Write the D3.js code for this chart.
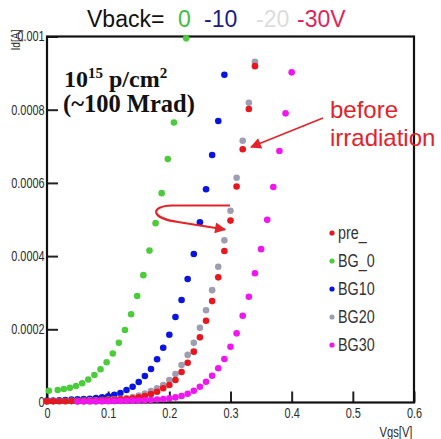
<!DOCTYPE html>
<html><head><meta charset="utf-8">
<script src="https://cdn.jsdelivr.net/npm/d3@7/dist/d3.min.js"></script>
<style>body{margin:0;background:#fff}svg{display:block}</style>
</head><body><svg id="c" width="441" height="439"></svg>
<script>
// ---- data ----
const xTicks = [0, 0.1, 0.2, 0.3, 0.4, 0.5, 0.6];
const xTickLabels = ["0", "0.1", "0.2", "0.3", "0.4", "0.5", "0.6"];
const yTicks = [0, 0.0002, 0.0004, 0.0006, 0.0008, 0.001];
const yTickLabels = ["0", "0.0002", "0.0004", "0.0006", "0.0008", "0.001"];
const seriesNames = ["pre_", "BG_0", "BG10", "BG20", "BG30"];
const seriesColors = ["#e8161e", "#4ccc3c", "#0a14e0", "#9e9eb2", "#f016f0"];

const preX = [0.00,0.01,0.02,0.03,0.04,0.05,0.06,0.07,0.08,0.09,0.10,0.11,0.12,0.13,0.14,0.15,0.16,0.17,0.18,0.19,0.20,0.21,0.22,0.23,0.24,0.25,0.26,0.27,0.28,0.29,0.30,0.31,0.32,0.33,0.34];
const preY = [3.0e-6,3.2e-6,3.4e-6,3.6e-6,3.8e-6,4.1e-6,4.4e-6,4.8e-6,5.3e-6,6.0e-6,6.8e-6,7.5e-6,8.5e-6,9.6e-6,1.15e-5,1.42e-5,1.78e-5,2.32e-5,2.95e-5,3.88e-5,4.78e-5,6.15e-5,8.33e-5,1.087e-4,1.39e-4,1.78e-4,2.235e-4,2.77e-4,3.42e-4,4.14e-4,4.97e-4,5.90e-4,6.92e-4,8.02e-4,9.19e-4];

const bg0X = [0.003,0.0175,0.0275,0.0375,0.0475,0.0575,0.0675,0.0775,0.0875,0.0975,0.1075,0.1175,0.1275,0.1375,0.1475,0.1575,0.1675,0.1775,0.1875,0.1975,0.2075,0.2275];
const bg0Y = [3.2e-5,3.4e-5,3.7e-5,4.0e-5,4.5e-5,5.25e-5,6.3e-5,7.5e-5,9.1e-5,1.10e-4,1.34e-4,1.63e-4,1.98e-4,2.41e-4,2.91e-4,3.48e-4,4.15e-4,4.90e-4,5.72e-4,6.65e-4,7.65e-4,9.95e-4];

const bg10X = [0.00,0.01,0.02,0.03,0.04,0.05,0.06,0.07,0.08,0.09,0.10,0.11,0.12,0.13,0.14,0.15,0.16,0.17,0.18,0.19,0.20,0.21,0.22,0.23,0.24,0.25,0.26,0.27,0.28,0.29];
const bg10Y = [5.0e-6,5.5e-6,6.0e-6,7.0e-6,7.8e-6,8.7e-6,9.6e-6,1.04e-5,1.23e-5,1.42e-5,1.69e-5,2.13e-5,2.6e-5,3.42e-5,4.32e-5,5.6e-5,7.24e-5,9.15e-5,1.18e-4,1.497e-4,1.852e-4,2.336e-4,2.80e-4,3.374e-4,4.057e-4,4.923e-4,5.825e-4,6.762e-4,7.691e-4,8.956e-4];

const bg20X = [0.00,0.01,0.02,0.03,0.04,0.05,0.06,0.07,0.08,0.09,0.10,0.11,0.12,0.13,0.14,0.15,0.16,0.17,0.18,0.19,0.20,0.21,0.22,0.23,0.24,0.25,0.26,0.27,0.28,0.29,0.30,0.31,0.32,0.33,0.34];
const bg20Y = [3.6e-6,3.8e-6,4.0e-6,4.2e-6,4.5e-6,4.9e-6,5.3e-6,5.8e-6,6.3e-6,7.0e-6,7.8e-6,8.8e-6,1.01e-5,1.23e-5,1.5e-5,1.91e-5,2.46e-5,3.14e-5,3.88e-5,4.78e-5,6.15e-5,7.8e-5,1.025e-4,1.30e-4,1.63e-4,2.04e-4,2.52e-4,3.07e-4,3.71e-4,4.43e-4,5.24e-4,6.14e-4,7.15e-4,8.19e-4,9.31e-4];

const bg30X = [0.05,0.06,0.07,0.08,0.09,0.10,0.11,0.12,0.13,0.14,0.15,0.16,0.17,0.18,0.19,0.20,0.21,0.22,0.23,0.24,0.25,0.26,0.27,0.28,0.29,0.30,0.31,0.32,0.33,0.34,0.35,0.36,0.37,0.38,0.39,0.40];
const bg30Y = [2.4e-6,2.6e-6,2.8e-6,3.0e-6,3.2e-6,3.5e-6,3.8e-6,4.1e-6,4.5e-6,5.0e-6,5.5e-6,6.2e-6,7.0e-6,8.0e-6,9.5e-6,1.12e-5,1.4e-5,1.78e-5,2.4e-5,3.22e-5,4.32e-5,5.68e-5,7.32e-5,9.34e-5,1.19e-4,1.525e-4,1.89e-4,2.37e-4,2.89e-4,3.53e-4,4.19e-4,4.99e-4,5.89e-4,6.87e-4,7.90e-4,9.02e-4];

const titleParts = ["Vback=", "0", "-10", "-20", "-30V"];
const titleColors = ["#111", "#3cc03c", "#1c1c86", "#dcdcdc", "#e0245a"];

// ---- chart ----
const svg = d3.select("#c");
const L = 47, R = 414, T = 36.5, B = 402.5;
const x = d3.scaleLinear().domain([0, 0.6]).range([L, R]);
const y = d3.scaleLinear().domain([0, 0.001]).range([B, T]);
const sans = "'Liberation Sans',Arial,sans-serif";
const SQ = "scale(0.78,1)";

// axes
const gx = svg.append("g").attr("transform", `translate(0,${B})`)
  .call(d3.axisBottom(x).tickValues(xTicks).tickSize(-11).tickPadding(6)
    .tickFormat((d, i) => xTickLabels[i]));
const gy = svg.append("g").attr("transform", `translate(${L},0)`)
  .call(d3.axisLeft(y).tickValues(yTicks).tickSize(-11).tickPadding(3)
    .tickFormat((d, i) => yTickLabels[i]));
[gx, gy].forEach(g => {
  g.select(".domain").remove();
  g.selectAll(".tick line").attr("stroke", "#222").attr("stroke-width", 2);
  g.selectAll(".tick text").attr("fill", "#2a2a2a").style("font-family", sans)
    .style("font-size", "14px").attr("transform", SQ);
});

// frame
svg.append("rect").attr("x", L).attr("y", T).attr("width", R - L).attr("height", B - T)
  .attr("fill", "none").attr("stroke", "#111").attr("stroke-width", 2.2);

// axis titles
svg.append("text").attr("transform", "translate(20,40) rotate(-90) scale(0.82,1)")
  .attr("text-anchor", "middle").style("font-family", sans).style("font-size", "12.5px")
  .attr("fill", "#2a2a2a").text("Id[A]");
svg.append("text").attr("transform", "translate(396,437) scale(0.8,1)").attr("text-anchor", "middle")
  .style("font-family", sans).style("font-size", "14px").attr("fill", "#2a2a2a").text("Vgs[V]");

// series (draw order: BG_0, BG10, BG20, pre_, BG30)
const series = [
  {name: seriesNames[0], xs: preX, ys: preY, color: seriesColors[0]},
  {name: seriesNames[1], xs: bg0X, ys: bg0Y, color: seriesColors[1]},
  {name: seriesNames[2], xs: bg10X, ys: bg10Y, color: seriesColors[2]},
  {name: seriesNames[3], xs: bg20X, ys: bg20Y, color: seriesColors[3]},
  {name: seriesNames[4], xs: bg30X, ys: bg30Y, color: seriesColors[4]}
];
const drawOrder = [1, 2, 3, 0, 4];
drawOrder.forEach(k => {
  const s = series[k];
  svg.append("g").selectAll("circle").data(s.xs.map((v, i) => [v, s.ys[i]])).join("circle")
    .attr("cx", d => x(d[0])).attr("cy", d => y(d[1])).attr("r", 3.3).attr("fill", s.color);
});

// legend
const leg = svg.append("g");
series.forEach((s, i) => {
  const yy = 233 + i * 28;
  leg.append("circle").attr("cx", 332).attr("cy", yy).attr("r", 2.6).attr("fill", s.color);
  leg.append("text").attr("transform", `translate(338,${yy}) scale(0.82,1)`).attr("dy", "0.36em")
    .style("font-family", sans).style("font-size", "17.5px").attr("fill", "#333").text(s.name);
});

// title
const tt = svg.append("text").attr("y", 27).style("font-family", sans).style("font-size", "23px");
const titleX = [87, 178, 204, 256, 297];
titleParts.forEach((p, i) => tt.append("tspan").attr("x", titleX[i]).attr("fill", titleColors[i]).text(p));

// annotation
const serif = "'Liberation Serif','Times New Roman',serif";
const a1 = svg.append("text").attr("x", 64).attr("y", 87).style("font-family", serif)
  .style("font-size", "24px").style("font-weight", "bold").attr("fill", "#111");
a1.append("tspan").text("10");
a1.append("tspan").attr("dy", -9).style("font-size", "15px").text("15");
a1.append("tspan").attr("dy", 9).text(" p/cm");
a1.append("tspan").attr("dy", -9).style("font-size", "15px").text("2");
svg.append("text").attr("x", 63).attr("y", 112).style("font-family", serif)
  .style("font-size", "24.5px").style("font-weight", "bold").attr("fill", "#111").text("(~100 Mrad)");

// before irradiation
const red = "#e3222a";
svg.append("text").attr("x", 330).attr("y", 118).style("font-family", sans)
  .style("font-size", "24px").attr("fill", red).text("before");
svg.append("text").attr("x", 330).attr("y", 146).style("font-family", sans)
  .style("font-size", "24px").attr("fill", red).text("irradiation");

const defs = svg.append("defs");
defs.append("marker").attr("id", "ah").attr("viewBox", "0 0 10 10").attr("refX", 9).attr("refY", 5)
  .attr("markerWidth", 13).attr("markerHeight", 11).attr("markerUnits", "userSpaceOnUse")
  .attr("orient", "auto").append("path").attr("d", "M0,0 L10,5 L0,10 Z").attr("fill", red);

svg.append("line").attr("x1", 323).attr("y1", 118).attr("x2", 251).attr("y2", 147)
  .attr("stroke", red).attr("stroke-width", 1.6).attr("marker-end", "url(#ah)");

svg.append("path").attr("d", "M230,205.5 L172,205.5 C150,206 150,218 178,222 L225,229.5")
  .attr("fill", "none").attr("stroke", red).attr("stroke-width", 2.2).attr("marker-end", "url(#ah)");
</script></body></html>
